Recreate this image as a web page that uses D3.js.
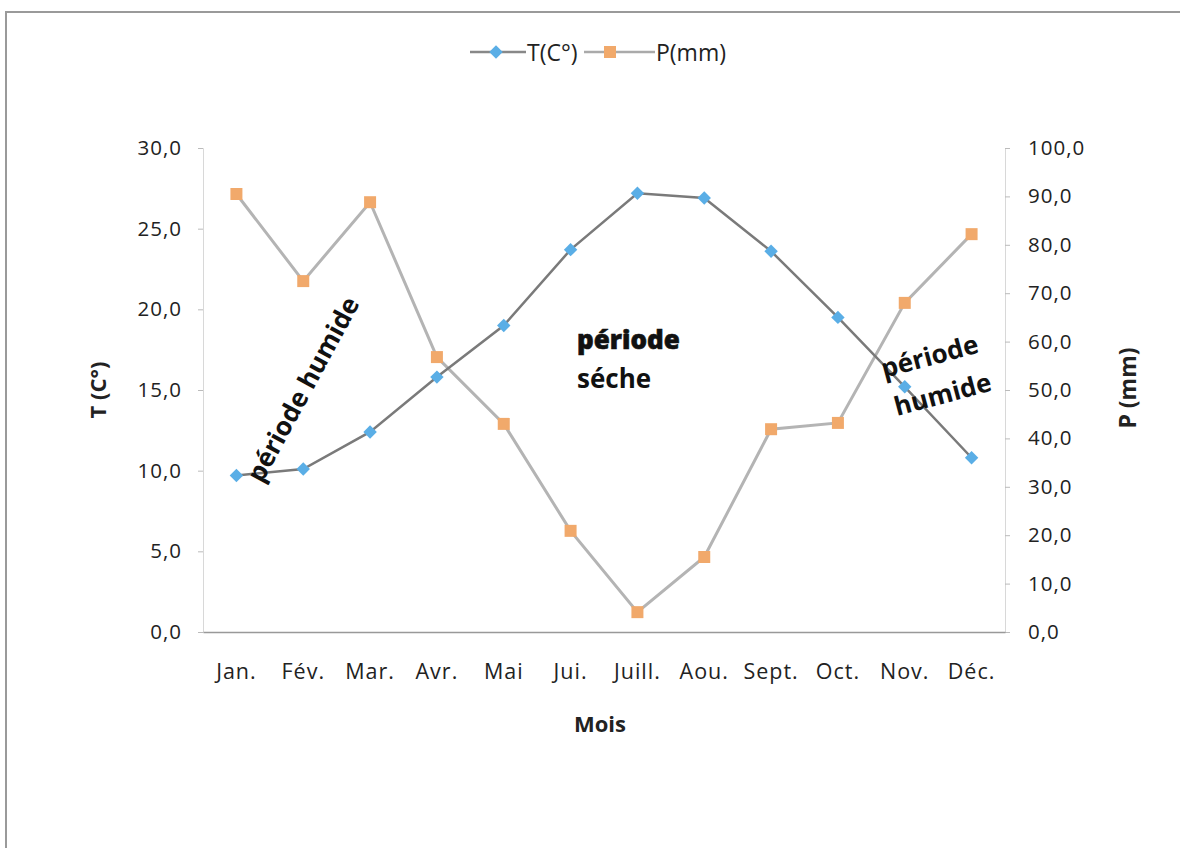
<!DOCTYPE html>
<html>
<head>
<meta charset="utf-8">
<script src="https://cdn.jsdelivr.net/npm/d3@7"></script>
<style>
  html, body { margin: 0; padding: 0; background: #fff; }
  svg { display: block; }
</style>
</head>
<body>
<script>
// Monthly climate data: temperature (°C) and precipitation (mm)
const months = ["Jan.", "Fév.", "Mar.", "Avr.", "Mai", "Jui.", "Juill.", "Aou.", "Sept.", "Oct.", "Nov.", "Déc."];
const temperature = [9.7, 10.1, 12.4, 15.8, 19.0, 23.7, 27.2, 26.9, 23.6, 19.5, 15.2, 10.8];
const precipitation = [90.5, 72.5, 88.8, 56.8, 43.0, 20.9, 4.1, 15.5, 41.9, 43.2, 68.0, 82.2];
const tTicks = [0, 5, 10, 15, 20, 25, 30];
const pTicks = [0, 10, 20, 30, 40, 50, 60, 70, 80, 90, 100];

const W = 1180, H = 848;
const m = { left: 203, right: 1005, top: 148, bottom: 632 };
const font = "'Open Sans', Lato, sans-serif";

const svg = d3.select("body").append("svg").attr("width", W).attr("height", H);

// frame
svg.append("path")
  .attr("d", `M6,${H} L6,12 L${W},12`)
  .attr("fill", "none").attr("stroke", "#9a9a9a").attr("stroke-width", 2);

const x = d3.scaleBand().domain(months).range([m.left, m.right]);
const cx = d => x(d) + x.bandwidth() / 2;
const yT = d3.scaleLinear().domain([0, 30]).range([m.bottom, m.top]);
const yP = d3.scaleLinear().domain([0, 100]).range([m.bottom, m.top]);

const fmt = v => d3.format(".1f")(v).replace(".", ",");

const styleLabels = sel => sel.attr("font-family", font).attr("font-size", 20.5)
  .attr("letter-spacing", 1).attr("fill", "#222");

// left axis
const gL = svg.append("g").attr("transform", `translate(${m.left},0)`)
  .call(d3.axisLeft(yT).tickValues(tTicks).tickFormat(fmt).tickSize(5).tickPadding(16));
gL.select(".domain").attr("stroke", "#d8d8d8");
gL.selectAll(".tick line").attr("stroke", "#bbb");
gL.selectAll("text").call(styleLabels);

// right axis
const gR = svg.append("g").attr("transform", `translate(${m.right},0)`)
  .call(d3.axisRight(yP).tickValues(pTicks).tickFormat(fmt).tickSize(5).tickPadding(18));
gR.select(".domain").attr("stroke", "#d8d8d8");
gR.selectAll(".tick line").attr("stroke", "#bbb");
gR.selectAll("text").call(styleLabels);

// bottom axis
const gB = svg.append("g").attr("transform", `translate(0,${m.bottom})`)
  .call(d3.axisBottom(x).tickSize(0).tickPadding(32));
gB.select(".domain").attr("stroke", "#999").attr("stroke-width", 1.5);
gB.selectAll("text").call(styleLabels).attr("font-size", 21.5);

// axis titles
svg.append("text").attr("x", 600).attr("y", 732).attr("text-anchor", "middle")
  .attr("font-family", font).attr("font-size", 22).attr("font-weight", "bold").attr("fill", "#222").text("Mois");
svg.append("text").attr("transform", "translate(106,390) rotate(-90)").attr("text-anchor", "middle")
  .attr("font-family", font).attr("font-size", 22).attr("font-weight", "bold").attr("fill", "#222").text("T (C°)");
svg.append("text").attr("transform", "translate(1136,388) rotate(-90)").attr("text-anchor", "middle")
  .attr("font-family", font).attr("font-size", 23).attr("font-weight", "bold").attr("fill", "#222").text("P (mm)");

// series lines
const lineT = d3.line().x((d, i) => cx(months[i])).y(d => yT(d));
const lineP = d3.line().x((d, i) => cx(months[i])).y(d => yP(d));

svg.append("path").attr("d", lineP(precipitation)).attr("fill", "none")
  .attr("stroke", "#b4b4b4").attr("stroke-width", 3);
svg.append("path").attr("d", lineT(temperature)).attr("fill", "none")
  .attr("stroke", "#7a7a7a").attr("stroke-width", 2.5);

// markers: rotated square for temperature, square for precipitation
const square = d3.symbol().type(d3.symbolSquare).size(144);
const rhomb = d3.symbol().type(d3.symbolSquare).size(90);

svg.append("g").selectAll("path").data(precipitation).join("path")
  .attr("d", square)
  .attr("transform", (d, i) => `translate(${cx(months[i])},${yP(d)})`)
  .attr("fill", "#f1a96b");
svg.append("g").selectAll("path").data(temperature).join("path")
  .attr("d", rhomb)
  .attr("transform", (d, i) => `translate(${cx(months[i])},${yT(d)}) rotate(45)`)
  .attr("fill", "#5aaee6");

// legend
const leg = svg.append("g").attr("font-family", font).attr("font-size", 23).attr("fill", "#222");
leg.append("line").attr("x1", 470).attr("x2", 526).attr("y1", 52).attr("y2", 52).attr("stroke", "#888").attr("stroke-width", 2.5);
leg.append("path").attr("d", rhomb).attr("transform", "translate(496,52) rotate(45)").attr("fill", "#5aaee6");
leg.append("text").attr("x", 527).attr("y", 61).text("T(C°)");
leg.append("line").attr("x1", 584).attr("x2", 655).attr("y1", 52).attr("y2", 52).attr("stroke", "#aaa").attr("stroke-width", 2.5);
leg.append("path").attr("d", square).attr("transform", "translate(610,52)").attr("fill", "#f1a96b");
leg.append("text").attr("x", 656).attr("y", 61).text("P(mm)");

// period annotations
const ann = svg.append("g").attr("font-family", font).attr("font-weight", "bold").attr("fill", "#111").attr("font-size", 26);
ann.append("text").attr("transform", "translate(262,484) rotate(-61.5)").text("période humide");
ann.append("text").attr("x", 577).attr("y", 349).attr("font-weight", 800).attr("stroke", "#111").attr("stroke-width", 0.6).text("période");
ann.append("text").attr("x", 577).attr("y", 388).text("séche");
ann.append("text").attr("transform", "translate(884,378) rotate(-15)").text("période");
ann.append("text").attr("transform", "translate(897,416) rotate(-15)").text("humide");
</script>
</body>
</html>
